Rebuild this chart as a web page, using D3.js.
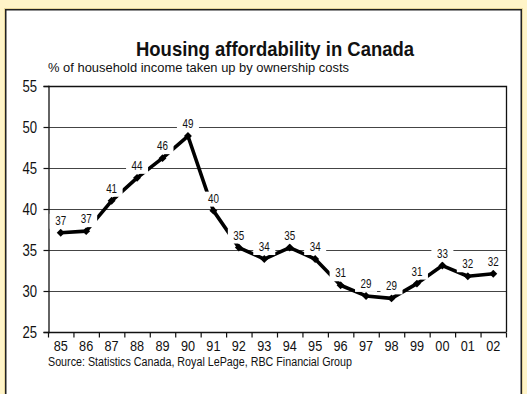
<!DOCTYPE html>
<html>
<head>
<meta charset="utf-8">
<script src="https://cdn.jsdelivr.net/npm/d3@7"></script>
<style>
  html, body { margin: 0; padding: 0; background: #fff4c8; }
  svg { display: block; }
  text { font-family: "Liberation Sans", Arial, sans-serif; fill: #111; }
</style>
</head>
<body>
<svg id="chart" width="527" height="394"></svg>
<script>
// Ownership costs as a share of household income, 1985-2002
const years = ["85","86","87","88","89","90","91","92","93","94","95","96","97","98","99","00","01","02"];
const values = [37.1, 37.3, 41.0, 43.8, 46.2, 48.9, 39.8, 35.3, 33.9, 35.3, 33.9, 30.7, 29.4, 29.1, 30.9, 33.1, 31.8, 32.1];
const valueLabels = ["37","37","41","44","46","49","40","35","34","35","34","31","29","29","31","33","32","32"];
const yTicks = [25, 30, 35, 40, 45, 50, 55];

const title = "Housing affordability in Canada";
const subtitle = "% of household income taken up by ownership costs";
const source = "Source: Statistics Canada, Royal LePage, RBC Financial Group";

const svg = d3.select("#chart");
const plot = { left: 48, top: 86, right: 506, bottom: 332 };
const NARROW = 0.82; // horizontal squeeze for a condensed look

// draws condensed text anchored at (px, py)
function narrowText(sel, px, py, str, size, anchor, weight) {
  return sel.append("text")
    .attr("transform", `translate(${px},${py}) scale(${NARROW},1)`)
    .attr("text-anchor", anchor || "start")
    .style("font-size", size + "px")
    .style("font-weight", weight || "normal")
    .text(str);
}

// condensed text fitted to a given width
function fittedText(px, py, str, size, width, weight) {
  return svg.append("text").attr("x", px).attr("y", py)
    .attr("textLength", width).attr("lengthAdjust", "spacingAndGlyphs")
    .style("font-size", size + "px").style("font-weight", weight || "normal").text(str);
}

// panel with dark frame and soft shadow line
svg.append("rect").attr("x", 4.5).attr("y", 8.5).attr("width", 518).attr("height", 400)
  .attr("fill", "none").attr("stroke", "#e6d59a").attr("stroke-width", 1);
svg.append("rect").attr("x", 5.75).attr("y", 9.75).attr("width", 515.5).attr("height", 400)
  .attr("fill", "#ffffff").attr("stroke", "#222").attr("stroke-width", 1.5);

fittedText(136, 55.5, title, 21, 278, "bold");
fittedText(48, 72, subtitle, 13.5, 301);

const x = d3.scaleBand().domain(years).range([plot.left, plot.right]);
const y = d3.scaleLinear().domain([25, 55]).range([plot.bottom, plot.top]);

// horizontal gridlines
svg.append("g").selectAll("line").data(yTicks.filter(t => t > 25 && t < 55)).join("line")
  .attr("x1", plot.left).attr("x2", plot.right)
  .attr("y1", d => Math.round(y(d)) + 0.5).attr("y2", d => Math.round(y(d)) + 0.5)
  .attr("stroke", "#444").attr("stroke-width", 1.1);

// plot frame top/right
svg.append("path")
  .attr("d", `M${plot.left},${plot.top + 0.5}H${plot.right + 0.5}V${plot.bottom}`)
  .attr("fill", "none").attr("stroke", "#111").attr("stroke-width", 1.3);

// y axis
const yAxis = svg.append("g").attr("transform", `translate(${plot.left + 0.5},0)`)
  .call(d3.axisLeft(y).tickValues(yTicks).tickSize(5).tickFormat(() => ""));
yAxis.select(".domain").attr("stroke", "#111").attr("stroke-width", 1.3);
yAxis.selectAll(".tick line").attr("stroke", "#111").attr("stroke-width", 1.2);
yTicks.forEach(t => narrowText(svg, 37, y(t) + 5.5, String(t), 16, "end"));

// x axis: ticks on category boundaries
const xAxis = svg.append("g").attr("transform", `translate(0,${plot.bottom + 0.5})`);
xAxis.append("line").attr("x1", plot.left).attr("x2", plot.right + 0.5)
  .attr("stroke", "#111").attr("stroke-width", 1.3);
const bounds = years.map(d => x(d)).concat([x(years[years.length - 1]) + x.bandwidth()]);
xAxis.selectAll("line.t").data(bounds).join("line").attr("class", "t")
  .attr("x1", d => d + 0.5).attr("x2", d => d + 0.5).attr("y1", 0).attr("y2", 5)
  .attr("stroke", "#111").attr("stroke-width", 1.2);
years.forEach(d => narrowText(svg, x(d) + x.bandwidth() / 2, 351, d, 15.5, "middle"));

fittedText(48, 366, source, 12.5, 304);

// series line with diamond markers
const cx = d => x(d) + x.bandwidth() / 2;
const pts = years.map((d, i) => [cx(d), y(values[i])]);
svg.append("path").datum(pts)
  .attr("d", d3.line())
  .attr("fill", "none").attr("stroke", "#000").attr("stroke-width", 3.6)
  .attr("stroke-linejoin", "round");
svg.append("g").selectAll("path").data(pts).join("path")
  .attr("transform", d => `translate(${d[0]},${d[1]})`)
  .attr("d", d3.symbol(d3.symbolDiamond2, 40))
  .attr("fill", "#000");

// value labels on white boxes
const lab = svg.append("g").selectAll("g").data(pts).join("g")
  .attr("transform", d => `translate(${d[0]},${d[1] - 8})`);
lab.append("rect").attr("x", -11).attr("y", -11).attr("width", 22).attr("height", 15)
  .attr("fill", "#fff");
lab.each(function (d, i) { narrowText(d3.select(this), 0, 0, valueLabels[i], 12, "middle"); });
</script>
</body>
</html>
